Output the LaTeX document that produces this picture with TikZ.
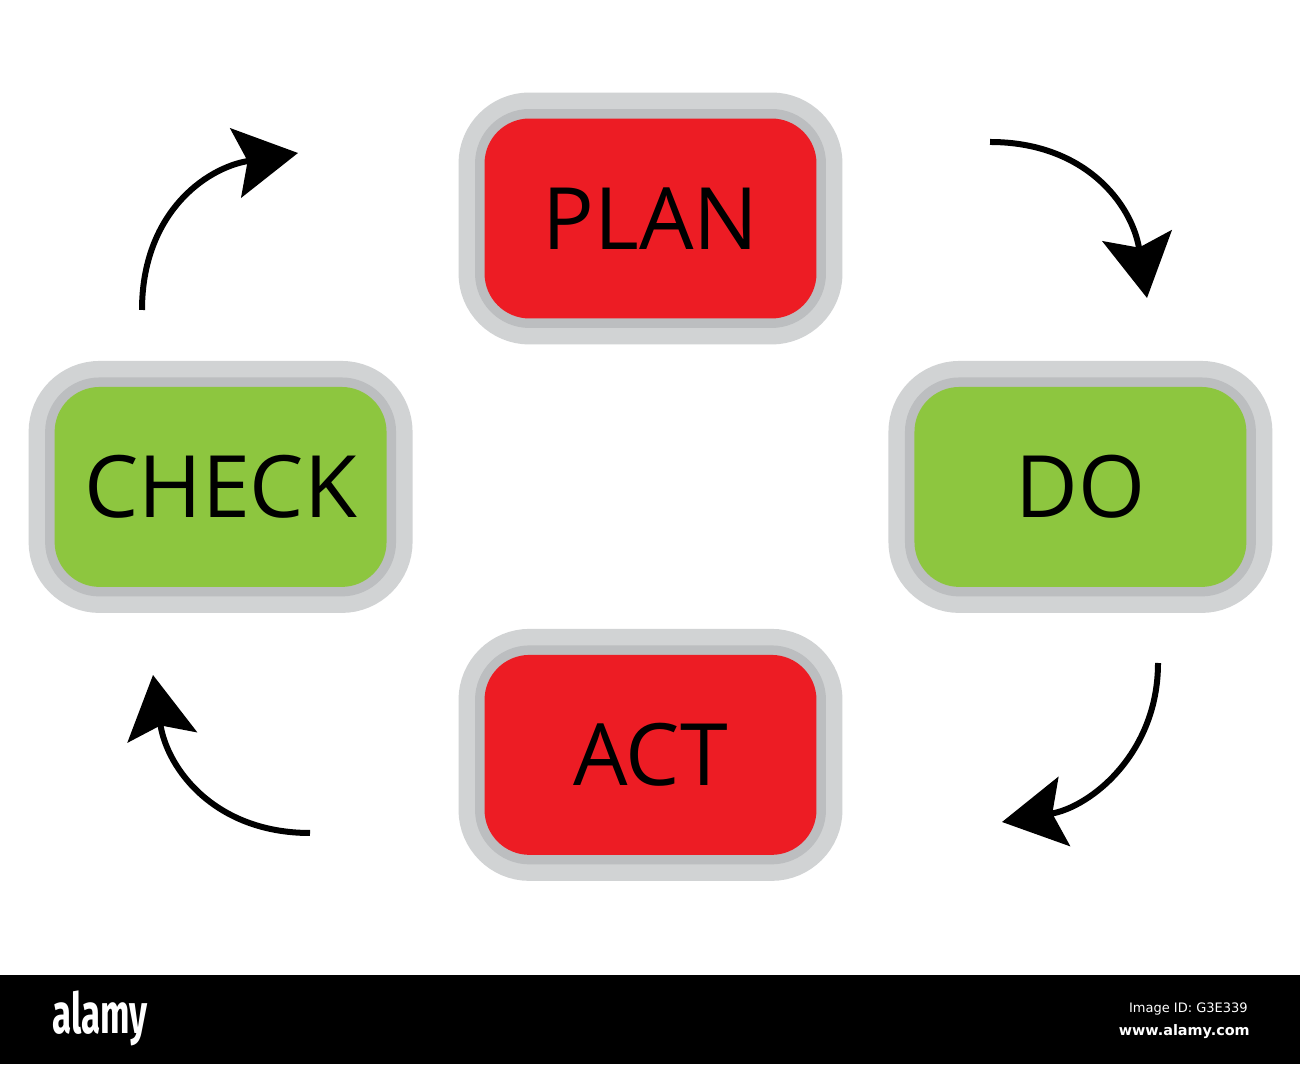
\documentclass[tikz,border=0pt]{standalone}
\usepackage{fontspec}
\setmainfont{Open Sans}
\newfontfamily\logofont{Fira Sans}
\newfontfamily\barfont{DejaVu Sans}
\usetikzlibrary{arrows.meta,positioning}
\definecolor{pdcared}{HTML}{ED1C24}
\definecolor{pdcagreen}{HTML}{8DC63F}
\definecolor{rimlight}{HTML}{D1D3D4}
\definecolor{rimdark}{HTML}{BCBEC0}

\begin{document}
\begin{tikzpicture}[x=0.02cm,y=0.02cm,
                    >={Stealth[length=1.26cm,width=1.4cm,inset=0.24cm]},
                    node distance=5.37cm and 8.6cm, on grid]
  \tikzstyle{phase}=[rectangle,rounded corners=0.9cm,minimum width=6.64cm,
                     minimum height=4cm,inner sep=0pt,text=black,
                     font=\fontsize{49}{50}\selectfont,text height=35pt,text depth=0pt,
                     preaction={draw=rimlight,line width=1.04cm},
                     preaction={draw=rimdark,line width=0.38cm}]
  \tikzstyle{turn}=[->,line width=0.12cm]
  \tikzstyle{barnote}=[inner sep=0pt,text=white]

  \useasboundingbox (0,0) rectangle (1300,1064);
  \fill[white] (0,0) rectangle (1300,1064);

  \node[phase,fill=pdcared]   (plan) at (650.5,845.5) {PLAN};
  \node[phase,fill=pdcagreen] (do)    [below right=of plan] {DO};
  \node[phase,fill=pdcagreen] (check) [below left=of plan]  {CHECK};
  \node[phase,fill=pdcared]   (act)   [below=10.73cm of plan] {ACT};

  \coordinate (fromplan)  at (990,922);
  \coordinate (todo)      at (1147,766);
  \coordinate (fromdo)    at (1158,401);
  \coordinate (toact)     at (1002,242);
  \coordinate (fromact)   at (310,231);
  \coordinate (tocheck)   at (153,389);
  \coordinate (fromcheck) at (142,754);
  \coordinate (toplan)    at (298,911);

  \draw[turn] (fromplan) .. controls +(95,0) and +(-15,94) .. (todo);
  \draw[turn] (fromdo) .. controls +(0,-90) and +(89,15) .. (toact);
  \draw[turn] (fromact) .. controls +(-95,0) and +(14,-94) .. (tocheck);
  \draw[turn] (fromcheck) .. controls +(0,95) and +(-94,-15) .. (toplan);

  \fill[black] (0,0) rectangle (1300,89);
  \node[barnote,anchor=base west,font=\logofont\bfseries\fontsize{32}{32}\selectfont]
       (logo) at (52,31) {\scalebox{0.62}[1]{alamy}};
  \node[barnote,anchor=base east,font=\barfont\fontsize{7.4}{8}\selectfont]
       (imageid) at (1248,52) {Image ID: G3E339};
  \node[barnote,anchor=base east,font=\barfont\bfseries\fontsize{8.2}{9}\selectfont]
       (site) at (1250,29) {www.alamy.com};
\end{tikzpicture}
\end{document}
